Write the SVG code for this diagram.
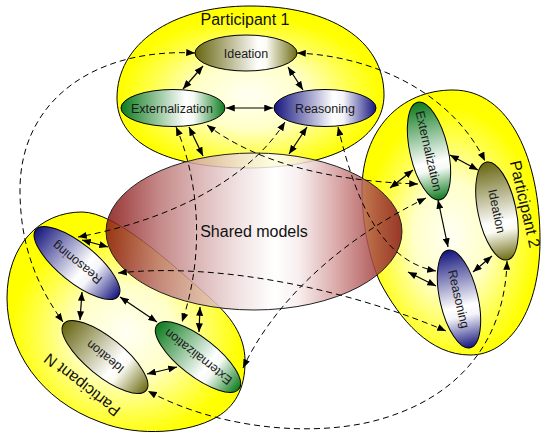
<svg xmlns="http://www.w3.org/2000/svg" width="542" height="437" viewBox="0 0 542 437">
<defs>
<style>
.blob{stroke:#000;stroke-width:1;fill:url(#gy)}
.node{stroke:#000;stroke-width:1}
.lbl{font-family:"Liberation Sans",Arial,sans-serif;font-size:12.5px;fill:#1a1a1a;text-anchor:middle}
.plbl{font-family:"Liberation Sans",Arial,sans-serif;font-size:16px;fill:#111;text-anchor:middle}
.sol{fill:none;stroke:#000;stroke-width:1.2;marker-start:url(#ah);marker-end:url(#ah)}
.dash{fill:none;stroke:#000;stroke-width:1;stroke-dasharray:6 4;marker-start:url(#ah);marker-end:url(#ah)}
</style>
<radialGradient id="gy" cx="0.5" cy="0.55" r="0.55">
<stop offset="0" stop-color="#fffff4"/>
<stop offset="0.38" stop-color="#ffffc8"/>
<stop offset="0.68" stop-color="#ffff4a"/>
<stop offset="0.88" stop-color="#ffff00"/>
<stop offset="1" stop-color="#ffff00"/>
</radialGradient>
<linearGradient id="gOl" x1="0" y1="0" x2="1" y2="0">
<stop offset="0" stop-color="#66640e"/>
<stop offset="0.62" stop-color="#ffffff"/>
<stop offset="0.7" stop-color="#fbfbf2"/>
<stop offset="1" stop-color="#6e6c14"/>
</linearGradient>
<linearGradient id="gGr" x1="0" y1="0" x2="1" y2="0">
<stop offset="0" stop-color="#0c7a1c"/>
<stop offset="0.62" stop-color="#ffffff"/>
<stop offset="0.7" stop-color="#f4faf4"/>
<stop offset="1" stop-color="#0c7a1c"/>
</linearGradient>
<linearGradient id="gBl" x1="0" y1="0" x2="1" y2="0">
<stop offset="0" stop-color="#14147e"/>
<stop offset="0.58" stop-color="#ffffff"/>
<stop offset="0.68" stop-color="#f4f4fa"/>
<stop offset="1" stop-color="#14147e"/>
</linearGradient>
<linearGradient id="gS" x1="0" y1="0" x2="1" y2="0">
<stop offset="0" stop-color="#861414"/>
<stop offset="0.05" stop-color="#952c2c"/>
<stop offset="0.18" stop-color="#bb7474"/>
<stop offset="0.32" stop-color="#d8aeae"/>
<stop offset="0.45" stop-color="#efdede"/>
<stop offset="0.57" stop-color="#ffffff"/>
<stop offset="0.65" stop-color="#f7ecec"/>
<stop offset="0.79" stop-color="#d29494"/>
<stop offset="0.92" stop-color="#a23e3e"/>
<stop offset="1" stop-color="#861414"/>
</linearGradient>
<marker id="ah" viewBox="0 0 10 8" refX="10" refY="4" markerWidth="9" markerHeight="7" markerUnits="userSpaceOnUse" orient="auto-start-reverse">
<path d="M0,0 L10,4 L0,8 z" fill="#000"/>
</marker>
</defs>

<g id="participant-2">
<path class="blob" d="M 453,90 C 510,90 540,160 540,240 C 540,310 510,355 470,355 C 430,355 400,320 380,282 C 370,260 362,225 362,190 C 362,130 400,90 453,90 Z"/>
<text class="plbl" transform="translate(525,204) rotate(77)" x="0" y="5.5">Participant 2</text>
</g>
<g id="participant-1">
<path class="blob" d="M 250,6 C 330,6 384,40 384,95 C 384,135 340,167 250,168 C 160,168 117,140 117,98 C 117,45 170,6 250,6 Z"/>
<text class="plbl" x="245" y="25">Participant 1</text>
</g>
<g id="participant-n">
<path class="blob" d="M 82,212 C 115,212 170,262 210,298 C 235,320 246,340 245,365 C 244,395 230,410 215,418 C 190,432 140,438 100,422 C 40,400 7,350 7,298 C 7,245 40,212 82,212 Z"/>
<text class="plbl" transform="translate(82,385) rotate(218)" x="0" y="5.5">Participant N</text>
</g>

<g id="shared-models">
<ellipse cx="254" cy="231.5" rx="148" ry="78.5" fill="url(#gS)" fill-opacity="0.85" stroke="#222" stroke-width="1"/>
<text class="plbl" x="254" y="237">Shared models</text>
</g>

<g id="ideation-1">
<ellipse class="node" cx="246" cy="53" rx="51" ry="18" fill="url(#gOl)"/>
<text class="lbl" x="246" y="57.5">Ideation</text>
</g>
<g id="externalization-1">
<ellipse class="node" cx="173" cy="108" rx="52" ry="18.5" fill="url(#gGr)"/>
<text class="lbl" x="172" y="112.5">Externalization</text>
</g>
<g id="reasoning-1">
<ellipse class="node" cx="325" cy="108" rx="51" ry="18.5" fill="url(#gBl)"/>
<text class="lbl" x="325" y="112.5">Reasoning</text>
</g>

<g id="externalization-2" transform="translate(429,151) rotate(77)">
<ellipse class="node" rx="50" ry="19" fill="url(#gGr)"/>
<text class="lbl" x="0" y="4.5">Externalization</text>
</g>
<g id="ideation-2" transform="translate(497,211) rotate(78)">
<ellipse class="node" rx="50" ry="19" fill="url(#gOl)"/>
<text class="lbl" x="0" y="4.5">Ideation</text>
</g>
<g id="reasoning-2" transform="translate(459,299) rotate(77)">
<ellipse class="node" rx="50" ry="19" fill="url(#gBl)"/>
<text class="lbl" x="0" y="4.5">Reasoning</text>
</g>

<g id="reasoning-n" transform="translate(77,263)">
<ellipse class="node" rx="53" ry="19" fill="url(#gBl)" transform="rotate(39)"/>
<text class="lbl" transform="rotate(219)" x="0" y="4.5">Reasoning</text>
</g>
<g id="ideation-n" transform="translate(105,357)">
<ellipse class="node" rx="53" ry="19" fill="url(#gOl)" transform="rotate(39)"/>
<text class="lbl" transform="rotate(219)" x="0" y="4.5">Ideation</text>
</g>
<g id="externalization-n" transform="translate(198,357)">
<ellipse class="node" rx="52" ry="19" fill="url(#gGr)" transform="rotate(38)"/>
<text class="lbl" transform="rotate(218)" x="0" y="4.5">Externalization</text>
</g>

<g id="connectors">
<path class="sol" d="M 183,89 L 203,66"/>
<path class="sol" d="M 288,67 L 303,90"/>
<path class="sol" d="M 226,108 L 273,108"/>
<path class="sol" d="M 189,127 L 203,156"/>
<path class="sol" d="M 307,127 L 289,154"/>
<path class="sol" d="M 450,155 L 478,170"/>
<path class="sol" d="M 438,200 L 448,247"/>
<path class="sol" d="M 492,256 L 473,272"/>
<path class="sol" d="M 390,188 L 413,170"/>
<path class="sol" d="M 408,272 L 436,286"/>
<path class="sol" d="M 82,292 L 80,320"/>
<path class="sol" d="M 120,297 L 157,322"/>
<path class="sol" d="M 147,374 L 177,367"/>
<path class="sol" d="M 82,240 L 108,247"/>
<path class="sol" d="M 200,307 L 199,332"/>

<path class="dash" d="M 195,53 C 95,48 20,100 20,190 C 20,250 40,290 63,322"/>
<path class="dash" d="M 297,53 C 370,56 450,90 485,161"/>
<path class="dash" d="M 507,261 C 505,340 460,400 370,422 C 300,438 210,425 148,391"/>
<path class="dash" d="M 176,127 C 195,170 208,245 182,322"/>
<path class="dash" d="M 207,125 C 240,150 300,180 418,184"/>
<path class="dash" d="M 285,122 C 245,185 160,222 78,237"/>
<path class="dash" d="M 118,273 C 220,262 350,290 446,331"/>
<path class="dash" d="M 338,127 C 352,185 375,260 436,271"/>
<path class="dash" d="M 426,198 C 330,245 270,310 243,368"/>
</g>
</svg>
